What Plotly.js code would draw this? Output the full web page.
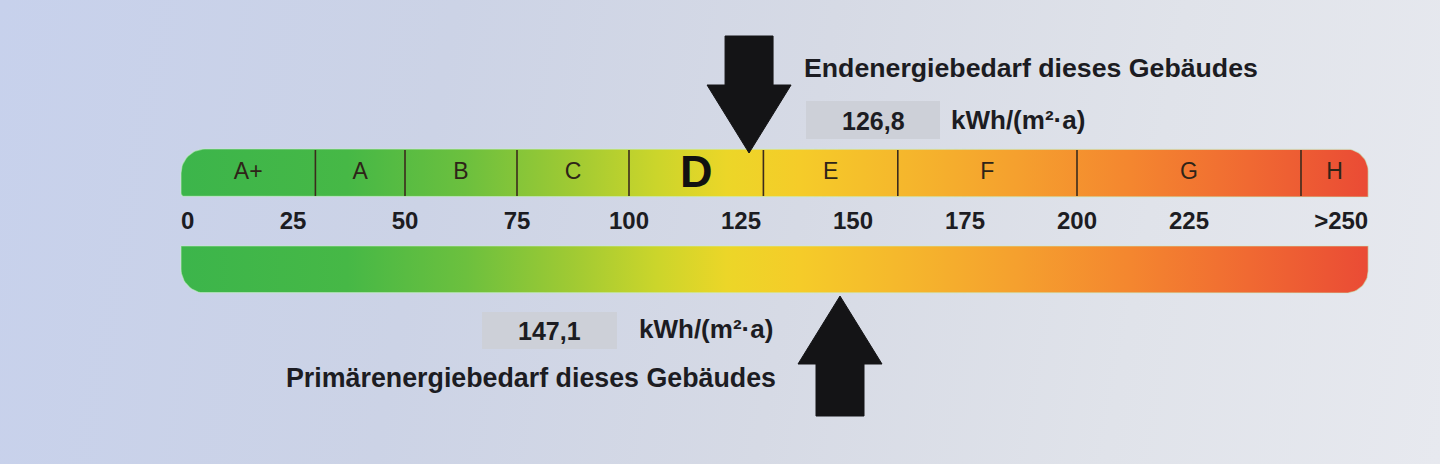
<!DOCTYPE html>
<html>
<head>
<meta charset="utf-8">
<script src="https://cdn.plot.ly/plotly-3.0.1.min.js"></script>
<style>
  html, body { margin: 0; padding: 0; }
  body {
    width: 1440px; height: 464px; overflow: hidden;
    background: linear-gradient(100deg, #c7d1ec 0%, #ccd3e6 30%, #d6dae5 55%, #e0e3ea 78%, #e7e9ef 100%);
  }
  #chart { width: 1440px; height: 464px; }
</style>
</head>
<body>
<div id="chart"></div>
<script>
// Energy efficiency classes (kWh/(m²·a)) and their upper bounds
const classNames = ['A+', 'A', 'B', 'C', 'D', 'E', 'F', 'G', 'H'];
const classUpper = [30, 50, 75, 100, 130, 160, 200, 250];
const scaleEnd = 265;

// Scale tick labels
const tickValues = [0, 25, 50, 75, 100, 125, 150, 175, 200, 225, 250];
const tickLabels = ['0', '25', '50', '75', '100', '125', '150', '175', '200', '225', '>250'];

// Values of this building
const endEnergy = 126.8;      // Endenergiebedarf
const primaryEnergy = 147.1;  // Primärenergiebedarf
const unitLabel = 'kWh/(m²·a)';
const endTitle = 'Endenergiebedarf dieses Gebäudes';
const primaryTitle = 'Primärenergiebedarf dieses Gebäudes';

// ---- layout constants (pixels) ----
const W = 1440, H = 464;
const X0PX = 181;          // pixel position of value 0
const PXPERV = 4.48;       // pixels per kWh/(m²·a)
const px2v = p => (p - X0PX) / PXPERV;
const v2px = v => X0PX + v * PXPERV;

const TOP_BAR = [149, 197];
const BOT_BAR = [246, 293];
const TICK_Y = 223;
const FONT = 'Liberation Sans, Arial, sans-serif';
const INK = '#1c1c22';

const gradient = [
  [0.00, '#3cb54b'],
  [0.14, '#46b846'],
  [0.24, '#6cc03e'],
  [0.33, '#a0ca33'],
  [0.40, '#cbd52b'],
  [0.46, '#ecd628'],
  [0.52, '#f5cc29'],
  [0.60, '#f5b92c'],
  [0.70, '#f5a12e'],
  [0.80, '#f4862f'],
  [0.90, '#f06932'],
  [1.00, '#ea4b35']
];

// rounded bar outline; radii in px: [topLeft, topRight, bottomRight, bottomLeft]
function barOutline(y0, y1, r) {
  const xl = v2px(0), xr = v2px(scaleEnd);
  const pts = [];
  const arc = (cx, cy, rad, a0, a1) => {
    const n = rad > 0 ? 16 : 1;
    for (let i = 0; i <= n; i++) {
      const a = a0 + (a1 - a0) * i / n;
      pts.push([cx + rad * Math.cos(a), cy + rad * Math.sin(a)]);
    }
  };
  const P = Math.PI;
  arc(xl + r[0], y0 + r[0], r[0], P, 1.5 * P);
  arc(xr - r[1], y0 + r[1], r[1], 1.5 * P, 2 * P);
  arc(xr - r[2], y1 - r[2], r[2], 0, 0.5 * P);
  arc(xl + r[3], y1 - r[3], r[3], 0.5 * P, P);
  pts.push(pts[0]);
  return { x: pts.map(p => px2v(p[0])), y: pts.map(p => p[1]) };
}

function barTrace(y0, y1, r, edge) {
  const o = barOutline(y0, y1, r);
  return {
    type: 'scatter', mode: 'lines', x: o.x, y: o.y,
    fill: 'toself',
    fillgradient: { type: 'horizontal', colorscale: gradient, start: 0, stop: scaleEnd },
    line: { color: edge, width: 1.2 },
    hoverinfo: 'skip', showlegend: false
  };
}

// arrow polygon, tip at value v; geometry in px
function arrowTrace(v, tipY, baseY, endY) {
  const shaft = 24 / PXPERV, head = 42 / PXPERV;
  const x = [v, v - head, v - shaft, v - shaft, v + shaft, v + shaft, v + head, v];
  const y = [tipY, baseY, baseY, endY, endY, baseY, baseY, tipY];
  return {
    type: 'scatter', mode: 'lines', x, y, fill: 'toself',
    fillcolor: '#141416', line: { color: '#141416', width: 1 },
    hoverinfo: 'skip', showlegend: false
  };
}

const fmt = v => v.toFixed(1).replace('.', ',');

const traces = [];
traces.push(barTrace(TOP_BAR[0], TOP_BAR[1], [24, 22, 0, 4], 'rgba(200,240,200,0.55)'));
traces.push(barTrace(BOT_BAR[0], BOT_BAR[1], [0, 0, 22, 24], 'rgba(200,240,200,0.55)'));

// class dividers
const divX = [], divY = [];
classUpper.forEach(b => { divX.push(b, b, null); divY.push(TOP_BAR[0] + 1, TOP_BAR[1] - 1, null); });
traces.push({
  type: 'scatter', mode: 'lines', x: divX, y: divY,
  line: { color: '#3b2b1c', width: 1.6 }, hoverinfo: 'skip', showlegend: false
});

// class letters
const lows = [0].concat(classUpper);
const highs = classUpper.concat([scaleEnd]);
const centers = classNames.map((_, i) => (lows[i] + highs[i]) / 2);
const ratedIdx = highs.findIndex((h, i) => endEnergy >= lows[i] && endEnergy < h);
traces.push({
  type: 'scatter', mode: 'text',
  x: centers, y: centers.map((_, i) => i === ratedIdx ? (TOP_BAR[0] + TOP_BAR[1]) / 2 + 3 : (TOP_BAR[0] + TOP_BAR[1]) / 2),
  text: classNames.map((c, i) => i === ratedIdx ? '<b>' + c + '</b>' : c),
  textposition: 'middle center',
  textfont: {
    family: FONT,
    size: classNames.map((_, i) => i === ratedIdx ? 45 : 23),
    color: classNames.map((_, i) => i === ratedIdx ? '#111' : '#2e2418')
  },
  hoverinfo: 'skip', showlegend: false
});

// scale numbers
traces.push({
  type: 'scatter', mode: 'text',
  x: tickValues.map((t, i) => i === tickValues.length - 1 ? scaleEnd : t),
  y: tickValues.map(() => TICK_Y),
  text: tickLabels.map(t => '<b>' + t + '</b>'),
  textposition: tickValues.map((t, i) => i === 0 ? 'middle right' : (i === tickValues.length - 1 ? 'middle left' : 'middle center')),
  textfont: { family: FONT, size: 24, color: INK },
  hoverinfo: 'skip', showlegend: false
});

// arrows
traces.push(arrowTrace(endEnergy, 153, 85, 36));
traces.push(arrowTrace(primaryEnergy, 296, 364, 416));

const boxFill = '#cdd0d8';
const shapes = [
  { type: 'rect', xref: 'x', yref: 'y', x0: px2v(806), x1: px2v(940), y0: 101, y1: 139, fillcolor: boxFill, line: { width: 0 }, layer: 'below' },
  { type: 'rect', xref: 'x', yref: 'y', x0: px2v(482), x1: px2v(617), y0: 312, y1: 349, fillcolor: boxFill, line: { width: 0 }, layer: 'below' }
];

const ann = (x, y, text, size, anchor, bold) => ({
  xref: 'x', yref: 'y', x, y, text: bold ? '<b>' + text + '</b>' : text,
  showarrow: false, xanchor: anchor, yanchor: 'middle',
  font: { family: FONT, size, color: INK }
});

const annotations = [
  ann(px2v(802), 68, endTitle, 26.7, 'left', true),
  ann(px2v(873), 121, fmt(endEnergy), 25, 'center', true),
  ann(px2v(949), 120, unitLabel, 26, 'left', true),
  ann(px2v(284), 378, primaryTitle, 26.8, 'left', true),
  ann(px2v(549), 331, fmt(primaryEnergy), 25, 'center', true),
  ann(px2v(637), 329, unitLabel, 26, 'left', true)
];

const layout = {
  width: W, height: H,
  margin: { l: 0, r: 0, t: 0, b: 0 },
  paper_bgcolor: 'rgba(0,0,0,0)', plot_bgcolor: 'rgba(0,0,0,0)',
  xaxis: { range: [px2v(0), px2v(W)], visible: false, fixedrange: true },
  yaxis: { range: [H, 0], visible: false, fixedrange: true },
  shapes, annotations, showlegend: false
};

Plotly.newPlot('chart', traces, layout, { staticPlot: true });
</script>
</body>
</html>
